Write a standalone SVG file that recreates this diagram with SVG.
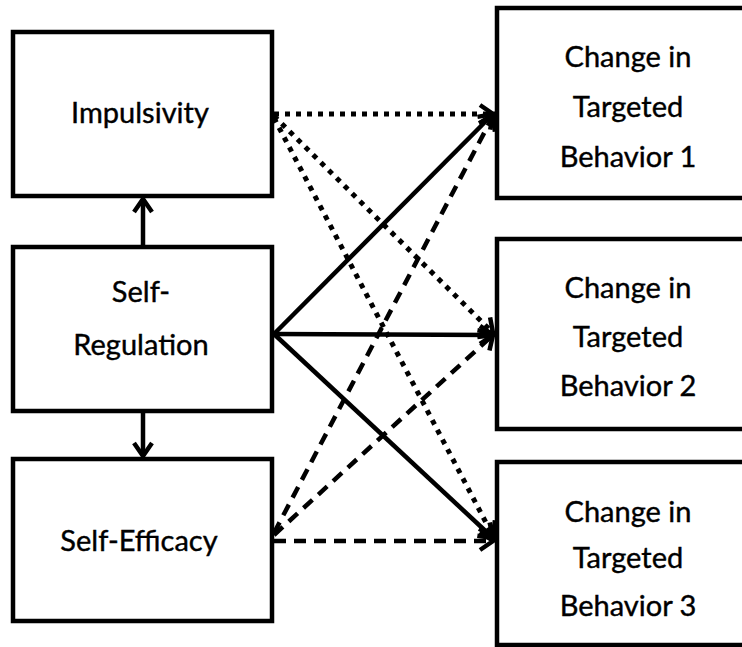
<svg xmlns="http://www.w3.org/2000/svg" width="742" height="647" viewBox="0 0 742 647">
<style>
.box{fill:#fff;stroke:#000;stroke-width:4.5}
.lbl{font-family:Lato,"Liberation Sans",sans-serif;font-size:29px;fill:#000;stroke:#000;stroke-width:0.4;text-anchor:middle}
.c{fill:none;stroke:#000;stroke-width:4.5}
.solid{stroke-width:4.5}
.dot{stroke-dasharray:5 6;stroke-width:5}
.dash{stroke-dasharray:12 8;stroke-width:4.5}
</style>
<defs>
<marker id="ah" viewBox="-18 -12 22 24" refX="0" refY="0" markerWidth="22" markerHeight="24" markerUnits="userSpaceOnUse" orient="auto">
<path d="M-13,-9 L0,0 L-13,9" fill="none" stroke="#000" stroke-width="4.5" stroke-dasharray="none"/>
</marker>
</defs>
<g id="impulsivity"><rect class="box" x="13" y="32" width="259" height="164"/><text class="lbl" x="140" y="123">Impulsivity</text></g>
<g id="self-regulation"><rect class="box" x="13" y="247" width="259" height="164"/><text class="lbl" x="141" y="302">Self-</text><text class="lbl" x="141" y="355">Regulation</text></g>
<g id="self-efficacy"><rect class="box" x="13" y="459" width="259" height="162"/><text class="lbl" x="139" y="551">Self-Efficacy</text></g>
<g id="behavior1"><rect class="box" x="497" y="8" width="264" height="190"/><text class="lbl" x="628" y="67">Change in</text><text class="lbl" x="628" y="117">Targeted</text><text class="lbl" x="628" y="167">Behavior 1</text></g>
<g id="behavior2"><rect class="box" x="497" y="239" width="264" height="190"/><text class="lbl" x="628" y="298">Change in</text><text class="lbl" x="628" y="347">Targeted</text><text class="lbl" x="628" y="396">Behavior 2</text></g>
<g id="behavior3"><rect class="box" x="497" y="462" width="264" height="183"/><text class="lbl" x="628" y="522">Change in</text><text class="lbl" x="628" y="568">Targeted</text><text class="lbl" x="628" y="616">Behavior 3</text></g>
<g id="connectors">
<line class="c solid" x1="143" y1="247" x2="143" y2="199" marker-end="url(#ah)"/>
<line class="c solid" x1="143" y1="411" x2="143" y2="456" marker-end="url(#ah)"/>
<line class="c dot" x1="274" y1="114" x2="493" y2="114" marker-end="url(#ah)"/>
<line class="c dot" x1="274" y1="116" x2="493" y2="333" marker-end="url(#ah)"/>
<line class="c dot" x1="274" y1="118" x2="493" y2="536" marker-end="url(#ah)"/>
<line class="c solid" x1="274" y1="334" x2="493" y2="114" marker-end="url(#ah)"/>
<line class="c solid" x1="274" y1="334" x2="493" y2="335" marker-end="url(#ah)"/>
<line class="c solid" x1="274" y1="334" x2="493" y2="538" marker-end="url(#ah)"/>
<line class="c dash" x1="274" y1="533" x2="493" y2="116" marker-end="url(#ah)"/>
<line class="c dash" x1="274" y1="535" x2="493" y2="335" marker-end="url(#ah)"/>
<line class="c dash" x1="274" y1="541" x2="493" y2="541" marker-end="url(#ah)"/>
</g>
</svg>
